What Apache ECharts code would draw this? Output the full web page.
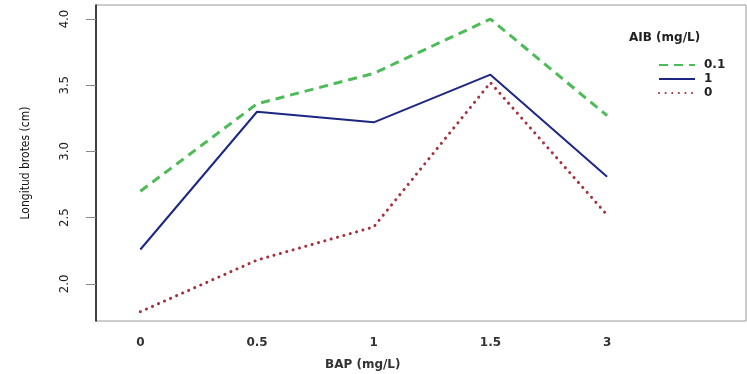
<!DOCTYPE html>
<html>
<head>
<meta charset="utf-8">
<script src="https://cdn.jsdelivr.net/npm/echarts@6/dist/echarts.min.js"></script>
<style>
  html, body { margin: 0; padding: 0; background: #fff; }
  #chart { width: 747px; height: 374px; }
</style>
</head>
<body>
<div id="chart"></div>
<script>
const bapLabels = ['0', '0.5', '1', '1.5', '3']
const yTicks = [2.0, 2.5, 3.0, 3.5, 4.0]
const aib01 = [2.70, 3.36, 3.59, 4.00, 3.27]
const aib1 = [2.26, 3.30, 3.22, 3.58, 2.81]
const aib0 = [1.79, 2.18, 2.43, 3.52, 2.52]

const toPoints = vals => vals.map((v, i) => [i, v])

const chart = echarts.init(document.getElementById('chart'))
const option = {
  animation: false,
  backgroundColor: '#fff',
  title: [
    {
      text: 'AIB (mg/L)',
      left: 624,
      top: 27,
      textStyle: { fontFamily: 'DejaVu Sans', fontSize: 12, fontWeight: 'bold', color: '#222' }
    },
    {
      text: 'BAP (mg/L)',
      left: 320,
      top: 354,
      textStyle: { fontFamily: 'DejaVu Sans', fontSize: 12, fontWeight: 'bold', color: '#333' }
    }
  ],
  legend: {
    orient: 'vertical',
    left: 653,
    top: 54,
    itemWidth: 36,
    itemHeight: 10,
    itemGap: 2,
    itemStyle: { opacity: 0 },
    textStyle: { fontFamily: 'DejaVu Sans', fontSize: 12, fontWeight: 'bold', color: '#222', padding: [0, 0, 0, 4] },
    data: ['0.1', '1', '0']
  },
  grid: {
    left: 96,
    right: 1,
    top: 5,
    bottom: 53,
    show: true,
    borderColor: '#999',
    borderWidth: 1
  },
  xAxis: {
    type: 'value',
    min: -0.38,
    max: 5.19,
    axisLine: { show: false },
    axisTick: { show: false },
    splitLine: { show: false },
    axisLabel: {
      customValues: [0, 1, 2, 3, 4],
      formatter: v => bapLabels[Math.round(v)],
      margin: 16,
      fontFamily: 'DejaVu Sans',
      fontSize: 12,
      fontWeight: 'bold',
      color: '#333'
    }
  },
  yAxis: {
    type: 'value',
    min: 1.72,
    max: 4.106,
    name: 'Longitud brotes (cm)',
    nameLocation: 'middle',
    nameRotate: 90,
    nameGap: 64,
    nameTextStyle: { fontFamily: 'DejaVu Sans Condensed, Liberation Sans', fontSize: 12, color: '#111' },
    axisLine: { show: true, onZero: false, lineStyle: { color: '#111', width: 1.5 } },
    axisTick: { show: true, customValues: yTicks, length: 10, lineStyle: { color: '#888' } },
    splitLine: { show: false },
    axisLabel: {
      customValues: yTicks,
      rotate: 90,
      margin: 25,
      formatter: v => v.toFixed(1),
      fontFamily: 'DejaVu Sans Condensed, Liberation Sans',
      fontSize: 13,
      color: '#222'
    }
  },
  series: [
    {
      name: '0.1',
      type: 'line',
      data: toPoints(aib01),
      symbol: 'none',
      lineStyle: { color: '#4dbb57', width: 3, type: [9, 6] },
      itemStyle: { color: '#4dbb57' }
    },
    {
      name: '1',
      type: 'line',
      data: toPoints(aib1),
      symbol: 'none',
      lineStyle: { color: '#1d2683', width: 2 },
      itemStyle: { color: '#1d2683' }
    },
    {
      name: '0',
      type: 'line',
      data: toPoints(aib0),
      symbol: 'none',
      lineStyle: { color: '#a3323e', width: 3, type: [0.1, 6.5], cap: 'round' },
      itemStyle: { color: '#a3323e' }
    }
  ]
}
chart.setOption(option)
</script>
</body>
</html>
